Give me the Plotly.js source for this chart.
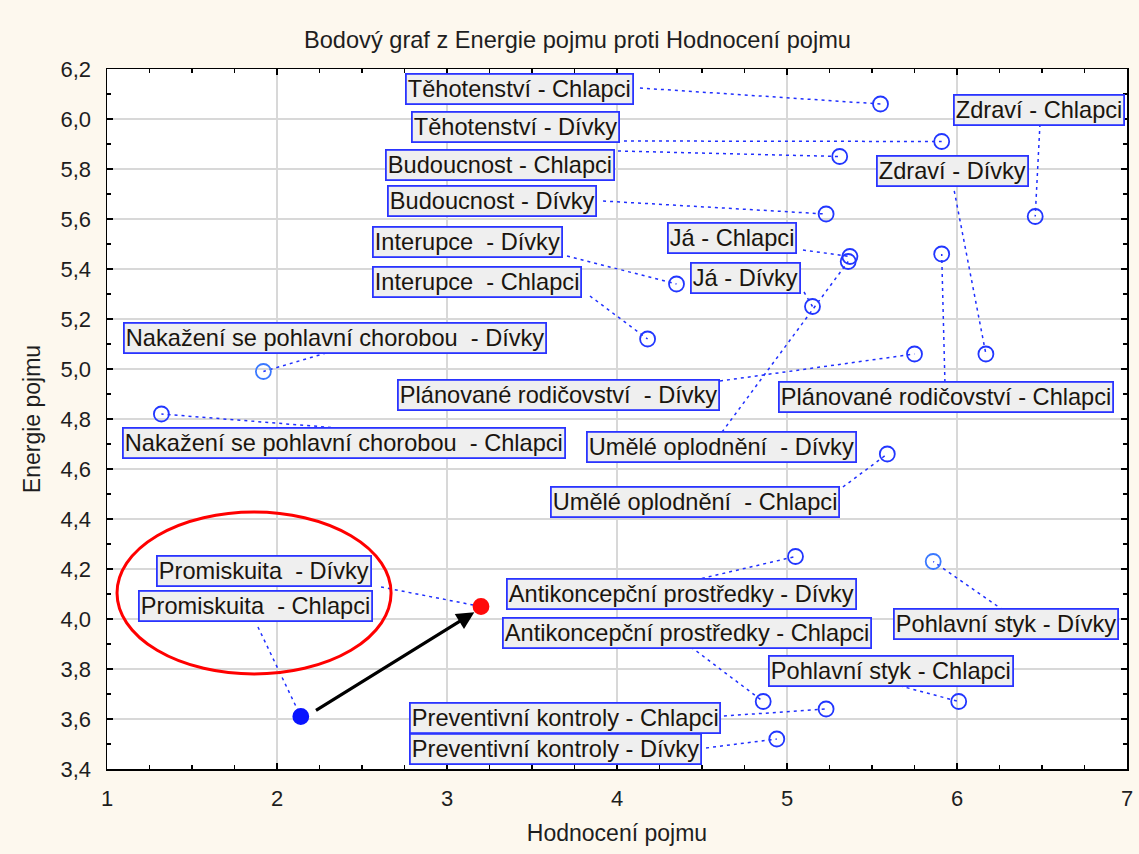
<!DOCTYPE html>
<html>
<head>
<meta charset="utf-8">
<script src="https://cdn.plot.ly/plotly-3.0.1.min.js"></script>
<style>html,body{margin:0;padding:0;background:#fdf8ee;}#chart{width:1139px;height:854px;}</style>
</head>
<body>
<div id="chart"></div>
<script>
// ---- data ----
const labels = [
  "Těhotenství - Chlapci", "Těhotenství - Dívky", "Budoucnost - Chlapci", "Budoucnost - Dívky",
  "Interupce  - Dívky", "Interupce  - Chlapci", "Já - Chlapci", "Já - Dívky",
  "Zdraví - Chlapci", "Zdraví - Dívky", "Plánované rodičovství - Chlapci", "Plánované rodičovství  - Dívky",
  "Nakažení se pohlavní chorobou  - Dívky", "Nakažení se pohlavní chorobou  - Chlapci",
  "Umělé oplodnění  - Dívky", "Umělé oplodnění  - Chlapci",
  "Antikoncepční prostředky - Dívky", "Antikoncepční prostředky - Chlapci",
  "Pohlavní styk - Dívky", "Pohlavní styk - Chlapci",
  "Preventivní kontroly - Chlapci", "Preventivní kontroly - Dívky",
  "Promiskuita  - Dívky", "Promiskuita  - Chlapci"
];
const hodnoceni = [5.55, 5.91, 5.31, 5.23, 4.35, 4.18, 5.37, 5.15, 6.46, 6.17, 5.91, 5.75,
  1.92, 1.32, 5.36, 5.59, 5.05, 4.86, 5.86, 6.01, 5.23, 4.94, 3.20, 2.14];
const energie = [6.06, 5.91, 5.85, 5.62, 5.34, 5.12, 5.45, 5.25, 5.61, 5.06, 5.46, 5.06,
  4.99, 4.82, 5.43, 4.66, 4.25, 3.67, 4.23, 3.67, 3.64, 3.52, 4.05, 3.61];
const xTickVals = [1, 2, 3, 4, 5, 6, 7];

// ---- label layout (positions of label boxes and leader-line starts) ----
const labelPosX = [3.429, 3.40, 3.312, 3.265, 3.118, 3.176, 4.676, 4.753, 6.482, 5.971, 5.935, 3.653,
  2.344, 2.394, 4.612, 4.459, 4.382, 4.412, 6.288, 5.612, 3.694, 3.641, 1.924, 1.871];
const labelPosY = [6.12, 5.97, 5.816, 5.672, 5.508, 5.348, 5.526, 5.366, 6.036, 5.794, 4.89, 4.896,
  5.126, 4.706, 4.69, 4.47, 4.10, 3.946, 3.98, 3.794, 3.604, 3.48, 4.192, 4.052];
const leadX = [4.135, 4.041, 4.006, 3.918, 3.706, 3.841, 5.094, 5.10, 6.488, 5.976, 5.929, 4.606,
  2.329, 2.359, 4.618, 5.329, 4.459, 4.435, 6.271, 5.624, 4.629, 4.524, 2.612, 1.888];
const leadY = [6.124, 5.912, 5.872, 5.672, 5.452, 5.292, 5.476, 5.308, 5.98, 5.74, 4.948, 4.952,
  5.072, 4.764, 4.748, 4.528, 4.156, 3.888, 4.036, 3.74, 3.612, 3.484, 4.128, 3.968];

// ---- styles ----
const pointSymbol = labels.map(l => l.startsWith("Promiskuita") ? "circle" : "circle-open");
const pointColor = labels.map((l, i) => {
  if (l === "Promiskuita  - Dívky") return "#ff0a0a";
  if (l === "Promiskuita  - Chlapci") return "#0a14ff";
  if (l.startsWith("Nakažení se pohlavní chorobou  - Dívky") || l === "Pohlavní styk - Dívky") return "#3a78ff";
  return "#2136ff";
});
const pointSize = labels.map(l => l.startsWith("Promiskuita") ? 15 : 15);

const lineX = [], lineY = [];
labels.forEach((l, i) => {
  lineX.push(leadX[i], hodnoceni[i], null);
  lineY.push(leadY[i], energie[i], null);
});

const txtFont = {family: "Liberation Sans, Arial, sans-serif", size: 23.6, color: "#1a150e"};

const annotations = labels.map((l, i) => ({
  x: labelPosX[i], y: labelPosY[i], xref: "x", yref: "y",
  text: l.replace(/  /g, " \u00a0"), showarrow: false,
  xanchor: "center", yanchor: "middle",
  font: txtFont, bgcolor: "#efefef", bordercolor: "#2a34ff", borderwidth: 1.8, borderpad: 1
}));

// black arrow between the two Promiskuita points
const iC = labels.indexOf("Promiskuita  - Chlapci"), iD = labels.indexOf("Promiskuita  - Dívky");
const dx = hodnoceni[iD] - hodnoceni[iC], dy = energie[iD] - energie[iC];
annotations.push({
  xref: "x", yref: "y", axref: "x", ayref: "y",
  x: hodnoceni[iC] + 0.963 * dx, y: energie[iC] + 0.948 * dy,
  ax: hodnoceni[iC] + 0.076 * dx, ay: energie[iC] + 0.047 * dy,
  showarrow: true, arrowhead: 2, arrowsize: 1.1, arrowwidth: 3.2, arrowcolor: "#000000",
  standoff: 0, text: ""
});

const traces = [
  {x: lineX, y: lineY, mode: "lines", type: "scatter", hoverinfo: "skip",
   line: {color: "#1f2fff", width: 1.5, dash: "3px,4px"}},
  {x: hodnoceni, y: energie, text: labels, mode: "markers", type: "scatter",
   marker: {symbol: pointSymbol, color: pointColor, size: pointSize, opacity: 1,
            line: {width: 1.8, color: pointColor}}}
];

const axisFont = {family: "Liberation Sans, Arial, sans-serif", size: 22, color: "#1e1e1e"};
const axisTitleFont = {family: "Liberation Sans, Arial, sans-serif", size: 23, color: "#1e1e1e"};

const layout = {
  width: 1139, height: 854,
  paper_bgcolor: "#fdf8ee", plot_bgcolor: "#ffffff",
  margin: {l: 107, r: 12, t: 69, b: 85},
  showlegend: false,
  separators: ", ",
  title: {text: "Bodový graf z Energie pojmu proti Hodnocení pojmu",
          font: {family: "Liberation Sans, Arial, sans-serif", size: 23.6, color: "#1e1e1e"},
          x: 0.507, xanchor: "center", y: 0.953, yanchor: "middle"},
  xaxis: {range: [1, 7], tickvals: xTickVals, ticks: "inside", ticklen: 6, tickwidth: 1.2, tickcolor: "#000",
          minor: {dtick: 0.25, tick0: 1, ticks: "inside", ticklen: 4, tickcolor: "#000", showgrid: false},
          mirror: "allticks", showline: true, linecolor: "#000", linewidth: 1.5,
          showgrid: true, gridcolor: "#d8d8d8", gridwidth: 1.2, zeroline: false,
          tickfont: axisFont, ticklabelstandoff: 9,
          title: {text: "Hodnocení pojmu", font: axisTitleFont, standoff: 15}},
  yaxis: {range: [3.4, 6.2], dtick: 0.2, tick0: 3.4, tickformat: ".1f", ticks: "inside", ticklen: 6, tickwidth: 1.2, tickcolor: "#000",
          minor: {dtick: 0.1, tick0: 3.4, ticks: "inside", ticklen: 4, tickcolor: "#000", showgrid: false},
          mirror: "allticks", showline: true, linecolor: "#000", linewidth: 1.5,
          showgrid: true, gridcolor: "#d8d8d8", gridwidth: 1.2, zeroline: false,
          tickfont: axisFont, ticklabelstandoff: 10,
          title: {text: "Energie pojmu", font: axisTitleFont, standoff: 13}},
  shapes: [{type: "circle", xref: "x", yref: "y", x0: 1.059, x1: 2.671, y0: 3.78, y1: 4.428,
            line: {color: "#ff0000", width: 3}}],
  annotations: annotations
};

Plotly.newPlot("chart", traces, layout, {displayModeBar: false, staticPlot: true});
</script>
</body>
</html>
